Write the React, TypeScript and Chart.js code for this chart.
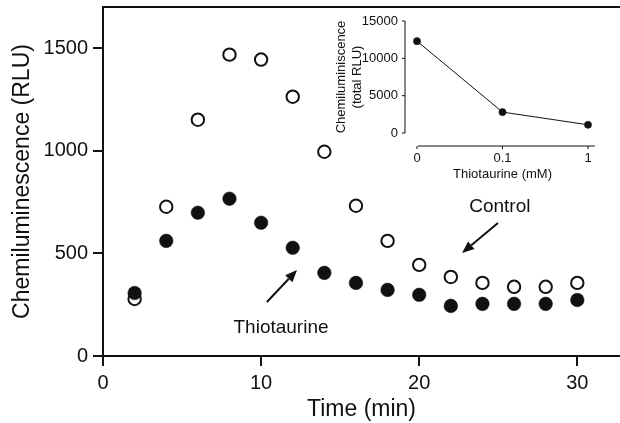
import React, { useEffect, useRef } from "react";
import { Chart, registerables } from "chart.js";

Chart.register(...registerables);

// ---- Data ----
const timeMin = [2, 4, 6, 8, 10, 12, 14, 16, 18, 20, 22, 24, 26, 28, 30];
const controlRLU = [278, 727, 1151, 1468, 1444, 1263, 995, 732, 561, 444, 385, 356, 337, 337, 356];
const thiotaurineRLU = [307, 561, 698, 766, 649, 527, 405, 356, 322, 298, 244, 254, 254, 254, 273];
const mainXTicks = [0, 10, 20, 30];
const mainYTicks = [0, 500, 1000, 1500];

const insetDoseLabels = ["0", "0.1", "1"];
const insetTotalRLU = [12300, 2800, 1100];
const insetYTicks = [0, 5000, 10000, 15000];

// Annotation labels with arrows (in data units of the main chart)
const annotations = [
  { text: "Control", tx: 25.1, ty: 726, fromX: 24.98, fromY: 648, toX: 22.71, toY: 502 },
  { text: "Thiotaurine", tx: 11.26, ty: 136, fromX: 10.37, fromY: 263, toX: 12.27, toY: 419 },
];

const FONT = "'Liberation Sans', Arial, Helvetica, sans-serif";
const INK = "#111";

function drawArrow(ctx: CanvasRenderingContext2D, x1: number, y1: number, x2: number, y2: number) {
  const ang = Math.atan2(y2 - y1, x2 - x1);
  const headLen = 12;
  const headHalf = 5;
  const bx = x2 - headLen * Math.cos(ang);
  const by = y2 - headLen * Math.sin(ang);
  ctx.beginPath();
  ctx.moveTo(x1, y1);
  ctx.lineTo(bx, by);
  ctx.stroke();
  ctx.beginPath();
  ctx.moveTo(x2, y2);
  ctx.lineTo(bx + headHalf * Math.sin(ang), by - headHalf * Math.cos(ang));
  ctx.lineTo(bx - headHalf * Math.sin(ang), by + headHalf * Math.cos(ang));
  ctx.closePath();
  ctx.fill();
}

const mainDecor = {
  id: "mainDecor",
  afterDatasetsDraw(chart: any) {
    const { ctx, chartArea, scales } = chart;
    const x = scales.x;
    const y = scales.y;
    ctx.save();
    ctx.strokeStyle = INK;
    ctx.fillStyle = INK;
    ctx.lineWidth = 2;
    ctx.beginPath();
    ctx.moveTo(chartArea.left - 1, chartArea.top);
    ctx.lineTo(chartArea.right, chartArea.top);
    ctx.stroke();
    ctx.font = `19px ${FONT}`;
    ctx.textAlign = "center";
    ctx.textBaseline = "middle";
    for (const a of annotations) {
      ctx.fillText(a.text, x.getPixelForValue(a.tx), y.getPixelForValue(a.ty));
      ctx.lineWidth = 2;
      drawArrow(
        ctx,
        x.getPixelForValue(a.fromX),
        y.getPixelForValue(a.fromY),
        x.getPixelForValue(a.toX),
        y.getPixelForValue(a.toY)
      );
    }
    ctx.restore();
  },
};

const insetDecor = {
  id: "insetDecor",
  afterDraw(chart: any) {
    const { ctx, chartArea, scales } = chart;
    const x = scales.x;
    const y = scales.y;
    ctx.save();
    ctx.strokeStyle = INK;
    ctx.lineWidth = 1;
    const x0 = chartArea.left - 12;
    ctx.beginPath();
    ctx.moveTo(x0, y.getPixelForValue(insetYTicks[insetYTicks.length - 1]));
    ctx.lineTo(x0, y.getPixelForValue(0));
    for (const t of insetYTicks) {
      const py = y.getPixelForValue(t);
      ctx.moveTo(x0 - 3, py);
      ctx.lineTo(x0, py);
    }
    ctx.stroke();
    const yb = chartArea.bottom + 13;
    ctx.beginPath();
    ctx.moveTo(x.getPixelForValue(0) + 1, yb);
    ctx.lineTo(x.getPixelForValue(2.08), yb);
    insetDoseLabels.forEach((_, i) => {
      const px = x.getPixelForValue(i);
      ctx.moveTo(px, yb);
      ctx.lineTo(px, yb + 3);
    });
    ctx.stroke();
    ctx.restore();
  },
};

function MainChart() {
  const ref = useRef<HTMLCanvasElement | null>(null);
  useEffect(() => {
    if (!ref.current) return;
    const chart = new Chart(ref.current, {
      type: "scatter",
      data: {
        datasets: [
          {
            label: "Thiotaurine",
            data: timeMin.map((t, i) => ({ x: t, y: thiotaurineRLU[i] })),
            pointRadius: 6.8,
            pointBackgroundColor: INK,
            pointBorderColor: INK,
            pointBorderWidth: 0.5,
            order: 0,
          },
          {
            label: "Control",
            data: timeMin.map((t, i) => ({ x: t, y: controlRLU[i] })),
            pointRadius: 6.2,
            pointBackgroundColor: "#fff",
            pointBorderColor: INK,
            pointBorderWidth: 2,
            order: 1,
          },
        ],
      },
      options: {
        animation: false,
        responsive: false,
        maintainAspectRatio: false,
        layout: { autoPadding: false, padding: { top: 7, right: 0, left: 0, bottom: 0 } },
        plugins: { legend: { display: false }, tooltip: { enabled: false } },
        scales: {
          x: {
            type: "linear",
            min: 0,
            max: 32.7,
            afterBuildTicks: (s: any) => {
              s.ticks = mainXTicks.map((v) => ({ value: v }));
            },
            afterFit: (s: any) => {
              s.height = 67;
              s.paddingLeft = 0;
              s.paddingRight = 0;
            },
            grid: { display: true, drawOnChartArea: false, drawTicks: true, tickLength: 10, color: INK, lineWidth: 2 },
            border: { display: true, color: INK, width: 2 },
            ticks: { color: INK, font: { family: FONT, size: 20 }, padding: 5, maxRotation: 0, callback: (v: any) => String(v) },
            title: { display: true, text: "Time (min)", color: INK, font: { family: FONT, size: 23 }, padding: { top: 0, bottom: 0 } },
          },
          y: {
            type: "linear",
            min: 0,
            max: 1700,
            afterBuildTicks: (s: any) => {
              s.ticks = mainYTicks.map((v) => ({ value: v }));
            },
            afterFit: (s: any) => {
              s.width = 103;
              s.paddingTop = 0;
              s.paddingBottom = 0;
            },
            grid: { display: true, drawOnChartArea: false, drawTicks: true, tickLength: 10, color: INK, lineWidth: 2 },
            border: { display: true, color: INK, width: 2 },
            ticks: { color: INK, font: { family: FONT, size: 20 }, padding: 5, callback: (v: any) => String(v) },
            title: { display: true, text: "Chemiluminescence (RLU)", color: INK, font: { family: FONT, size: 23 }, padding: { top: 9, bottom: 0 } },
          },
        },
      } as any,
      plugins: [mainDecor],
    });
    return () => chart.destroy();
  }, []);
  return <canvas ref={ref} width={620} height={423} style={{ position: "absolute", left: 0, top: 0, width: 620, height: 423 }} />;
}

function InsetChart() {
  const ref = useRef<HTMLCanvasElement | null>(null);
  useEffect(() => {
    if (!ref.current) return;
    const chart = new Chart(ref.current, {
      type: "scatter",
      data: {
        datasets: [
          {
            label: "Total",
            data: insetTotalRLU.map((v, i) => ({ x: i, y: v })),
            showLine: true,
            borderColor: INK,
            borderWidth: 1,
            pointRadius: 3.6,
            pointBackgroundColor: INK,
            pointBorderColor: INK,
            pointBorderWidth: 0.5,
            clip: false,
          } as any,
        ],
      },
      options: {
        animation: false,
        responsive: false,
        maintainAspectRatio: false,
        layout: { autoPadding: false, padding: { top: 13, right: 22, left: 0, bottom: 0 } },
        plugins: { legend: { display: false }, tooltip: { enabled: false } },
        scales: {
          x: {
            type: "linear",
            min: 0,
            max: 2,
            afterBuildTicks: (s: any) => {
              s.ticks = insetDoseLabels.map((_, i) => ({ value: i }));
            },
            afterFit: (s: any) => {
              s.height = 55;
              s.paddingLeft = 0;
              s.paddingRight = 0;
            },
            grid: { display: false, drawTicks: false },
            border: { display: false },
            ticks: { color: INK, font: { family: FONT, size: 13 }, padding: 18, maxRotation: 0, callback: (v: any) => insetDoseLabels[v] ?? "" },
            title: { display: true, text: "Thiotaurine (mM)", color: INK, font: { family: FONT, size: 13 }, padding: { top: 0, bottom: 6 } },
          },
          y: {
            type: "linear",
            min: 0,
            max: 15000,
            afterBuildTicks: (s: any) => {
              s.ticks = insetYTicks.map((v) => ({ value: v }));
            },
            afterFit: (s: any) => {
              s.width = 97;
              s.paddingTop = 0;
              s.paddingBottom = 0;
            },
            grid: { display: false, drawTicks: false },
            border: { display: false },
            ticks: { color: INK, font: { family: FONT, size: 13 }, padding: 19, callback: (v: any) => String(v) },
            title: {
              display: true,
              text: ["Chemiluminiscence", "(total RLU)"],
              color: INK,
              font: { family: FONT, size: 13 },
              padding: { top: 14, bottom: 0 },
            },
          },
        },
      } as any,
      plugins: [insetDecor],
    });
    return () => chart.destroy();
  }, []);
  return <canvas ref={ref} width={290} height={180} style={{ position: "absolute", left: 320, top: 8, width: 290, height: 180 }} />;
}

export default function App() {
  return (
    <div style={{ position: "absolute", left: 0, top: 0, width: 620, height: 423, background: "#fff", overflow: "hidden" }}>
      <MainChart />
      <InsetChart />
    </div>
  );
}
